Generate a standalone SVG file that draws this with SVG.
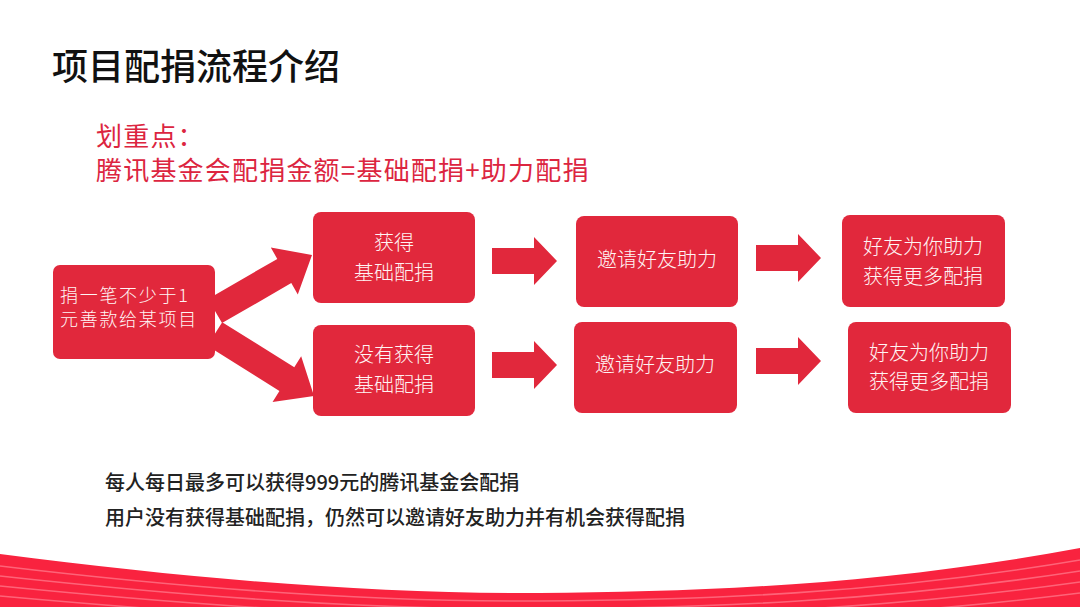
<svg xmlns="http://www.w3.org/2000/svg" width="1080" height="607" viewBox="0 0 1080 607">
<style>
.box{fill:#E1283C}
.arr{fill:#E1283C}
.nt{font-family:"Noto Sans CJK SC","Noto Sans",sans-serif;font-size:20px;fill:#FFF4F4;text-anchor:middle;font-weight:300}
.nts{font-family:"Noto Sans CJK SC","Noto Sans",sans-serif;font-size:18px;fill:#FFF4F4;font-weight:300;letter-spacing:1.7px}
.title{font-family:"Noto Sans CJK SC","Noto Sans",sans-serif;font-size:36px;fill:#111;font-weight:500}
.red{font-family:"Noto Sans CJK SC","Noto Sans",sans-serif;font-size:26px;fill:#DC2540;letter-spacing:1.2px}
.foot{font-family:"Noto Sans CJK SC","Noto Sans",sans-serif;font-size:20px;fill:#222;font-weight:500}
.stripe{fill:none;stroke:#FF7A8C;stroke-width:1.6;opacity:0.75}
</style>
<defs>
<path id="rarrow" d="M-65,-13 L-23,-13 L-23,-24 L0,0 L-23,24 L-23,13 L-65,13 Z"/>
</defs>
<rect width="1080" height="607" fill="#FFFFFF"/>

<text class="title" x="52" y="80">项目配捐流程介绍</text>
<text class="red" x="96" y="146">划重点：</text>
<text class="red" x="96" y="180">腾讯基金会配捐金额=基础配捐+助力配捐</text>

<g id="connectors" class="arr">
  <path transform="translate(312,255) rotate(-30)" d="M-112,-14 L-32,-14 L-32,-27 L0,0 L-32,27 L-32,14 L-112,14 Z"/>
  <path transform="translate(314,396) rotate(32)" d="M-117,-14 L-32,-14 L-32,-27 L0,0 L-32,27 L-32,14 L-117,14 Z"/>
  <use href="#rarrow" x="557" y="261"/>
  <use href="#rarrow" x="557" y="365"/>
  <use href="#rarrow" x="821" y="258"/>
  <use href="#rarrow" x="821" y="361"/>
</g>

<g id="node-start">
  <rect class="box" x="53" y="265" width="162" height="94" rx="7"/>
  <text class="nts" x="60" y="302">捐一笔不少于1</text>
  <text class="nts" x="60" y="326">元善款给某项目</text>
</g>
<g id="node-get">
  <rect class="box" x="313" y="212" width="162" height="91" rx="8"/>
  <text class="nt" x="394" y="250">获得</text>
  <text class="nt" x="394" y="280">基础配捐</text>
</g>
<g id="node-noget">
  <rect class="box" x="313" y="325" width="162" height="91" rx="8"/>
  <text class="nt" x="394" y="362">没有获得</text>
  <text class="nt" x="394" y="392">基础配捐</text>
</g>
<g id="node-invite1">
  <rect class="box" x="576" y="216" width="162" height="91" rx="8"/>
  <text class="nt" x="657" y="267">邀请好友助力</text>
</g>
<g id="node-invite2">
  <rect class="box" x="574" y="322" width="163" height="91" rx="8"/>
  <text class="nt" x="655" y="372">邀请好友助力</text>
</g>
<g id="node-more1">
  <rect class="box" x="842" y="215" width="163" height="92" rx="8"/>
  <text class="nt" x="923" y="254">好友为你助力</text>
  <text class="nt" x="923" y="284">获得更多配捐</text>
</g>
<g id="node-more2">
  <rect class="box" x="848" y="322" width="163" height="91" rx="8"/>
  <text class="nt" x="929" y="360">好友为你助力</text>
  <text class="nt" x="929" y="389">获得更多配捐</text>
</g>

<text class="foot" x="105" y="490">每人每日最多可以获得999元的腾讯基金会配捐</text>
<text class="foot" x="105" y="525">用户没有获得基础配捐，仍然可以邀请好友助力并有机会获得配捐</text>

<g id="wave">
  <path d="M0,554 C200,580 380,594 540,593 C700,592 880,585 1080,548 L1080,607 L0,607 Z" fill="#F9233F"/>
  <path class="stripe" d="M0,566 C200,590 380,602 540,601 C700,600 880,594 1080,560"/>
  <path class="stripe" d="M0,576 C200,598 380,610 540,609 C700,608 880,602 1080,571"/>
  <path class="stripe" d="M0,586 C200,606 380,618 540,617 C700,616 880,610 1080,582"/>
  <path class="stripe" d="M0,596 C200,614 380,626 540,625 C700,624 880,618 1080,593"/>
</g>
</svg>
